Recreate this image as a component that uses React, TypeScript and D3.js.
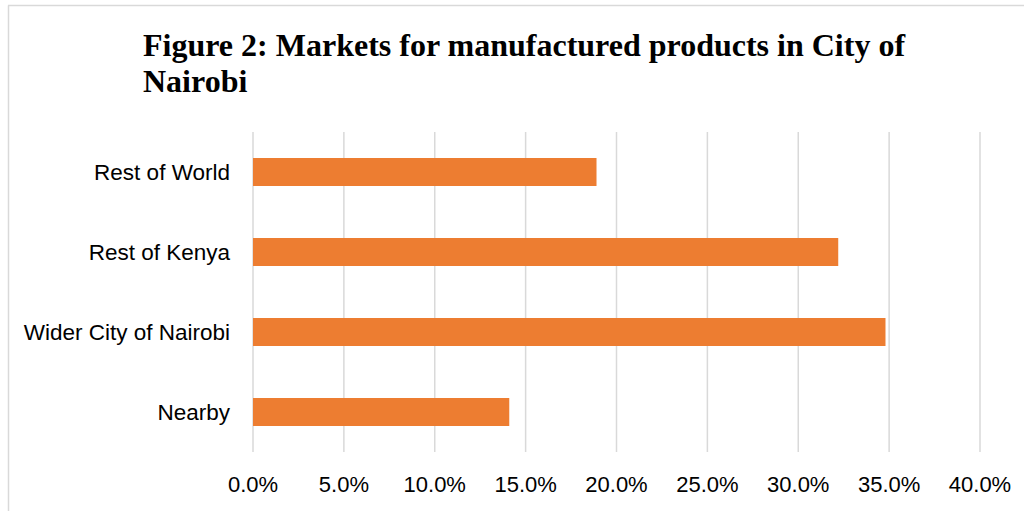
import React from "react";
import * as d3 from "d3";

const categories = ["Rest of World", "Rest of Kenya", "Wider City of Nairobi", "Nearby"];
const values = [0.189, 0.322, 0.348, 0.141];
const tickValues = [0, 0.05, 0.1, 0.15, 0.2, 0.25, 0.3, 0.35, 0.4];
const titleLines = ["Figure 2: Markets for manufactured products in City of", "Nairobi"];

export default function App() {
  const W = 1024, H = 511;
  const x = d3.scaleLinear().domain([0, 0.4]).range([253, 980]);
  const y = d3.scaleBand<string>().domain(categories).range([132, 452]).paddingInner(0.65).paddingOuter(0.325);
  const fmt = d3.format(".1%");
  const sans = "'Liberation Sans Narrow', 'Liberation Sans', Arial, sans-serif";
  return (
    <svg width={W} height={H} style={{ position: "absolute", left: 0, top: 0, display: "block" }}>
      <rect x={0} y={0} width={W} height={H} fill="#fff" />
      <line x1={8.5} y1={5.5} x2={8.5} y2={H} stroke="#d9d9d9" strokeWidth={1.5} />
      <line x1={8} y1={5.5} x2={W} y2={5.5} stroke="#d9d9d9" strokeWidth={1.5} />
      {titleLines.map((t, i) => (
        <text key={i} x={143} y={56 + i * 36} fontFamily="'Liberation Serif', 'Times New Roman', serif" fontWeight="bold" fontSize={32} fill="#000">{t}</text>
      ))}
      {tickValues.map((t) => (
        <g key={t}>
          <line x1={x(t)} x2={x(t)} y1={132} y2={452} stroke="#d9d9d9" strokeWidth={1.5} />
          <text x={x(t)} y={484} dy="0.35em" textAnchor="middle" fontFamily={sans} fontSize={22} fill="#000">{fmt(t)}</text>
        </g>
      ))}
      {categories.map((c, i) => (
        <g key={c}>
          <rect x={x(0)} y={y(c)!} width={x(values[i]) - x(0)} height={y.bandwidth()} fill="#ed7d31" />
          <text x={230} y={y(c)! + y.bandwidth() / 2} dy="0.35em" textAnchor="end" fontFamily={sans} fontSize={22.5} fill="#000">{c}</text>
        </g>
      ))}
    </svg>
  );
}
